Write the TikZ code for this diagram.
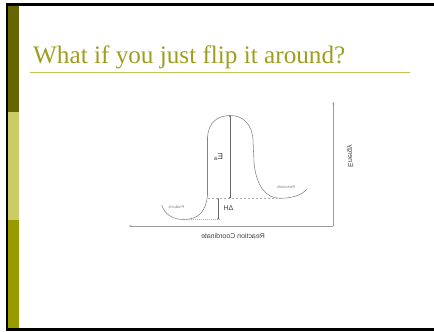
\documentclass[tikz,border=0pt]{standalone}
\usepackage{fontspec}
\setmainfont{Liberation Serif}
\setsansfont{Liberation Sans}
\usetikzlibrary{arrows.meta}
\definecolor{oliveDark}{HTML}{666600}
\definecolor{oliveLight}{HTML}{CCCC66}
\definecolor{oliveMid}{HTML}{999900}
\definecolor{titleCol}{HTML}{9E9E1E}
\definecolor{ruleCol}{HTML}{C2C256}
\definecolor{plotGray}{HTML}{9A9A9A}
\tikzset{
  axisline/.style={draw=plotGray, line width=0.6pt},
  curveline/.style={draw=plotGray!85!black, line width=0.55pt},
  levelline/.style={draw=plotGray!80, line width=0.5pt, dash pattern=on 2pt off 2pt},
  gaparrow/.style={draw=black!60, line width=0.5pt, {Circle[length=1.6pt]}-{Circle[length=1.6pt]}},
  tinylabel/.style={font=\sffamily\fontsize{4}{4}\selectfont, text=black!50, inner sep=0pt, xscale=-1},
  smalllabel/.style={font=\sffamily\fontsize{7}{7}\selectfont, text=black!75, inner sep=0pt, xscale=-1},
}
\begin{document}
\begin{tikzpicture}[x=1pt, y=-1pt]
\useasboundingbox (0,0) rectangle (434,332);
% slide frame
\fill[black] (6,3.3) rectangle (434,6);
\fill[black] (6,3.3) rectangle (7.8,331);
\fill[black] (6,327.7) rectangle (434,331);
\fill[oliveDark] (7.8,6) rectangle (19,112);
\fill[oliveLight] (7.8,112) rectangle (19,220);
\fill[oliveMid] (7.8,220) rectangle (19,327.7);
% title
\node[anchor=base west, inner sep=0pt, text=titleCol, font=\fontsize{25.2}{26}\selectfont] (title) at (33,63) {What if you just flip it around?};
\draw[ruleCol, line width=1pt] (30,72.3) -- (410,72.3);
% axes
\coordinate (origin) at (333.3,226);
\coordinate (ytop) at (333.3,102);
\coordinate (xend) at (129,226);
\draw[axisline, -{Stealth[length=2.5pt,width=2pt]}] (origin) -- (ytop);
\draw[axisline, -{Stealth[length=2.5pt,width=2pt]}] (origin) -- (xend);
% energy curve
\draw[curveline] (161.7,205)
  .. controls (165,215) and (173,219.5) .. (184,219.5)
  .. controls (199,219.5) and (206,211) .. (207.5,195)
  -- (207.5,137)
  .. controls (208.5,123) and (217,115.5) .. (230,115.5)
  .. controls (243,115.5) and (252,124) .. (253,140)
  -- (254,162)
  .. controls (256,186) and (266,198.3) .. (280,198.3)
  .. controls (292,198.3) and (302,195) .. (306.7,189.3);
% levels
\coordinate (reacL) at (208,198.3);
\coordinate (reacR) at (277,198.3);
\coordinate (prodL) at (185,219.3);
\coordinate (prodR) at (220,219.3);
\draw[levelline] (reacL) -- (reacR);
\draw[levelline, dash pattern=on 1pt off 1pt] (prodL) -- (prodR);
% Ea and dH
\coordinate (eaTop) at (230,115.5);
\coordinate (eaBot) at (230,198.3);
\coordinate (dhTop) at (218.3,198.3);
\coordinate (dhBot) at (218.3,219.3);
\draw[gaparrow] (eaTop) -- (eaBot);
\draw[gaparrow] (dhTop) -- (dhBot);
% labels (mirrored)
\node[smalllabel, font=\sffamily\fontsize{8.5}{8.5}\selectfont] (ea) at (218.5,157) {E\textsubscript{a}};
\node[smalllabel] (dh) at (228.5,208.5) {ΔH};
\node[tinylabel] (prod) at (176.5,207.5) {Products};
\node[tinylabel] (reac) at (286,187.3) {Reactants};
\node[smalllabel] (rc) at (233,236) {Reaction Coordinate};
\node[font=\sffamily\fontsize{7}{7}\selectfont, text=black!75, inner sep=0pt, xscale=-1, rotate=90] (en) at (350,156) {Energy};
\end{tikzpicture}
\end{document}
